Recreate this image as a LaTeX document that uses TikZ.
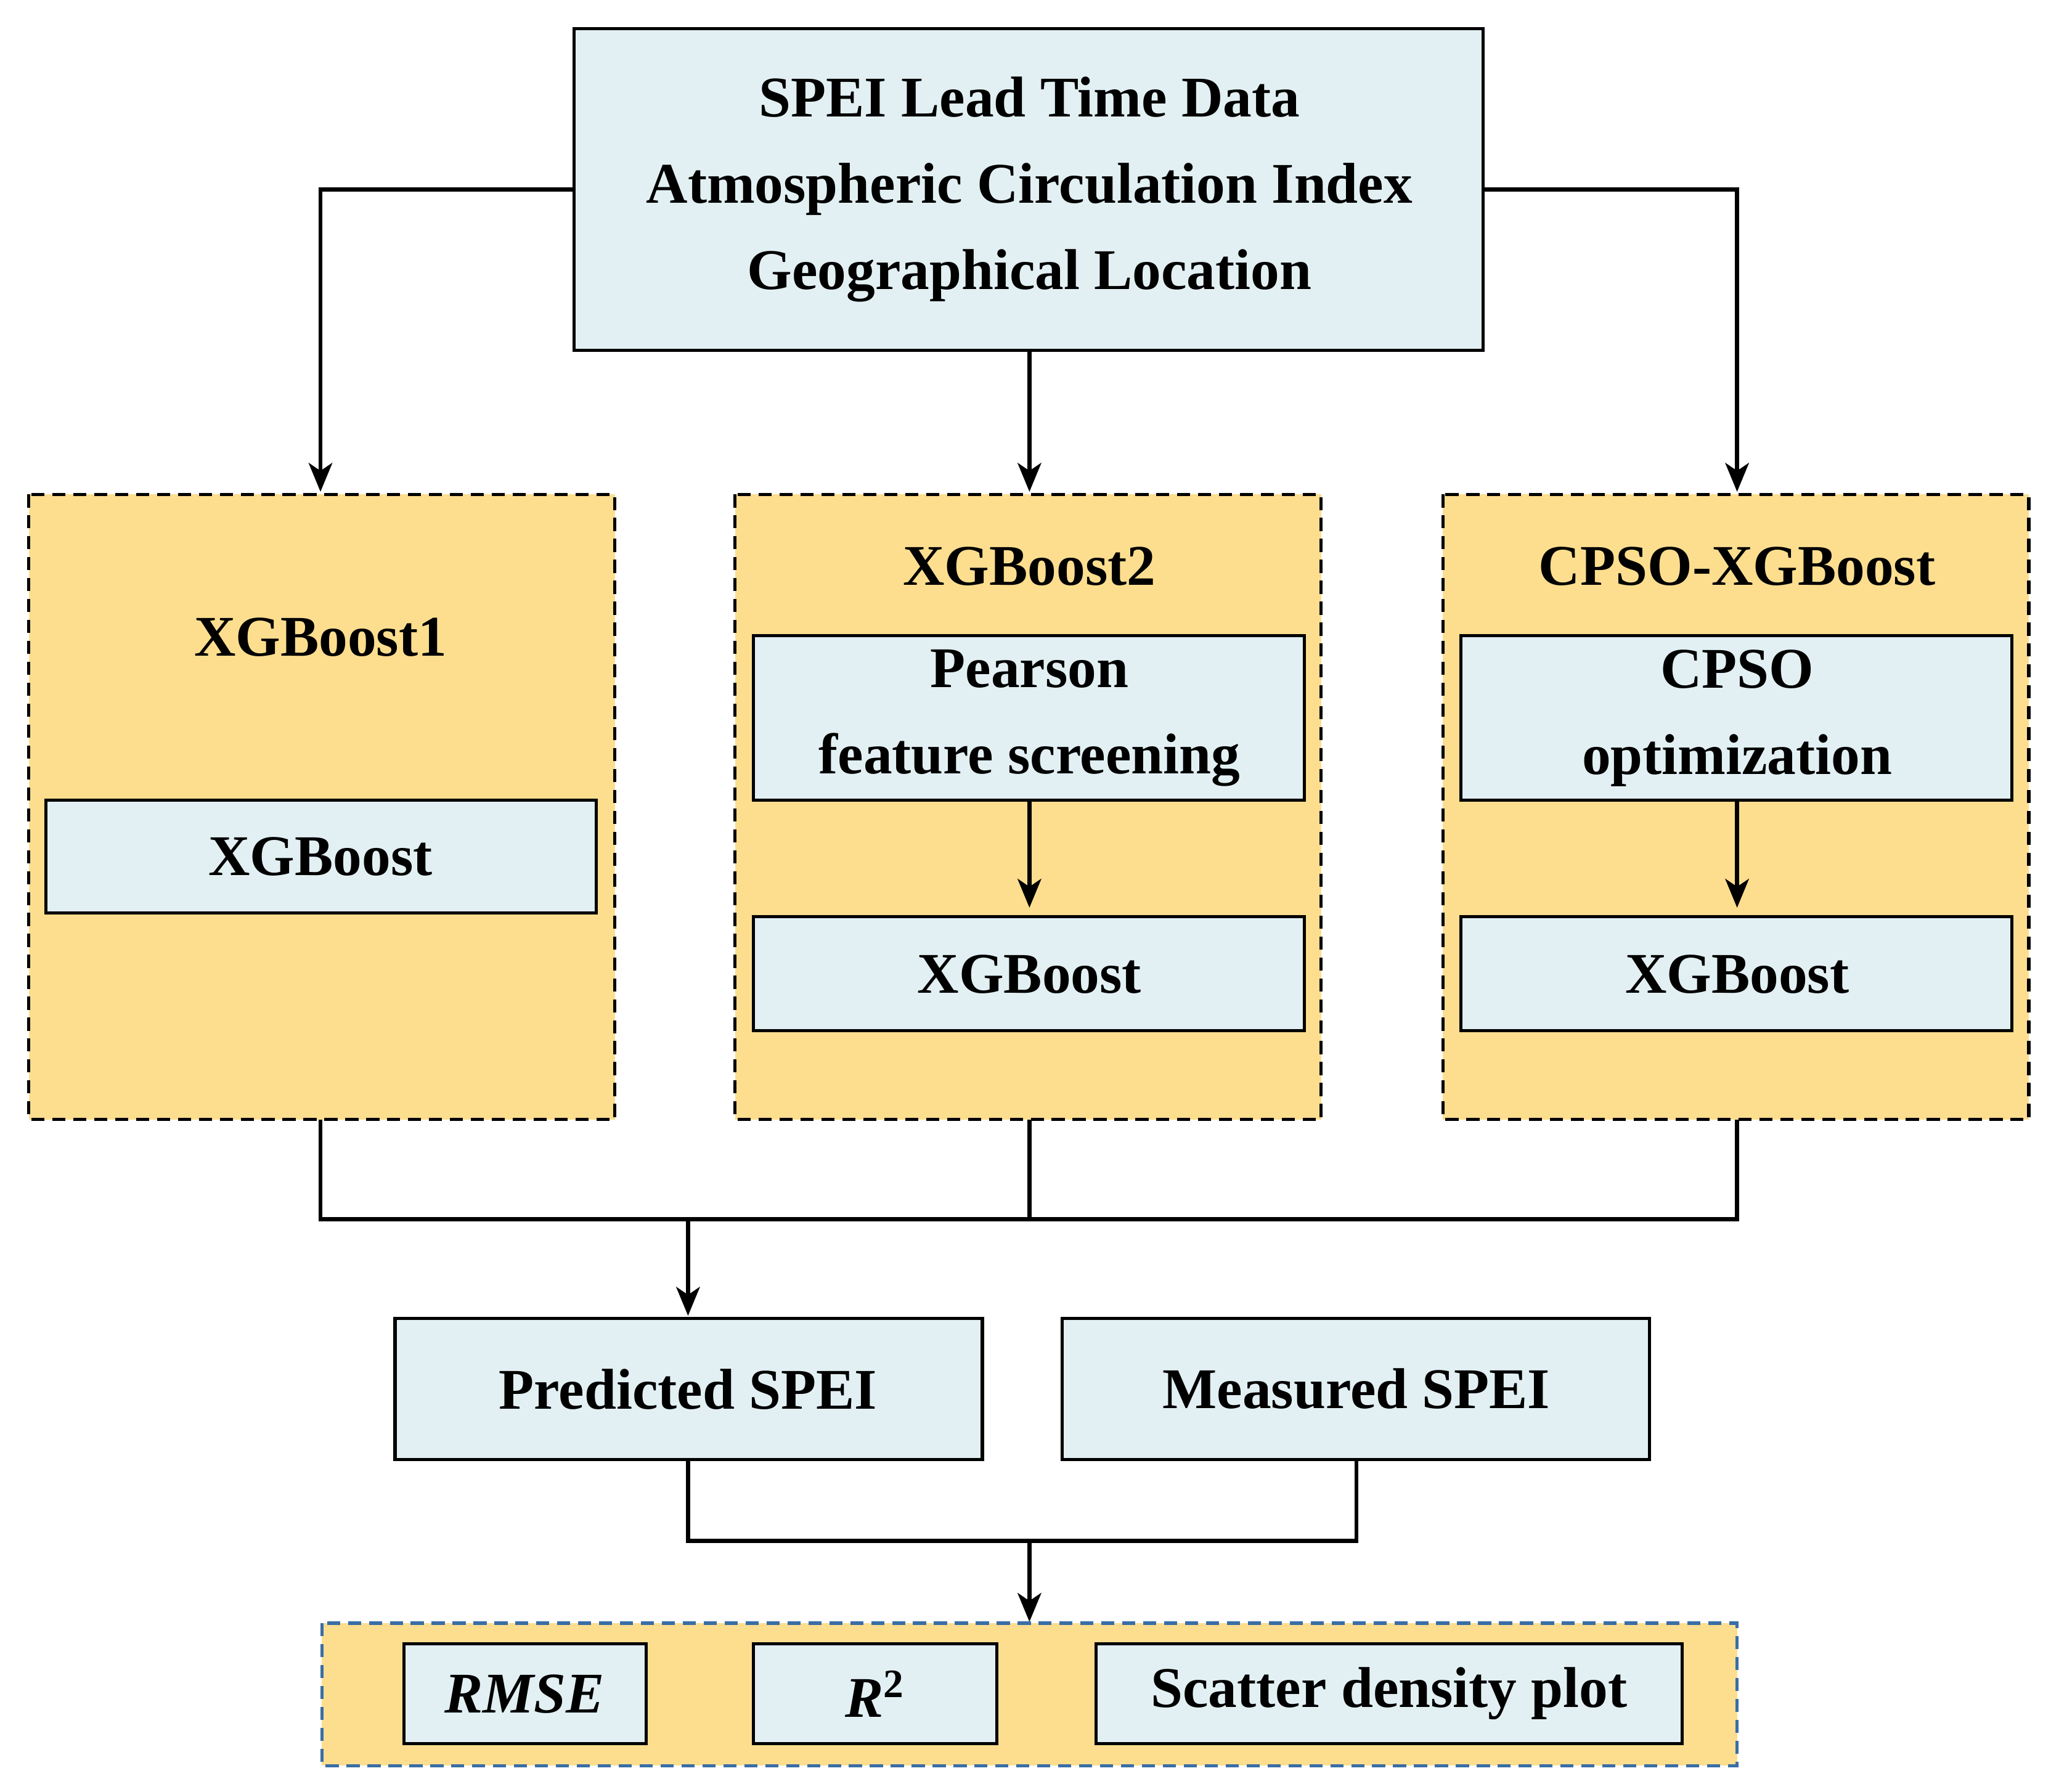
\documentclass[tikz,border=0pt]{standalone}
\usepackage{fontspec}
\setmainfont{Liberation Serif}
\usetikzlibrary{arrows.meta}
\definecolor{lb}{HTML}{E2F0F3}
\definecolor{ye}{HTML}{FDDE8F}
\definecolor{db}{HTML}{3A6EA5}
\begin{document}
\begin{tikzpicture}[x=0.5pt,y=-0.5pt,
  box/.style={draw=black,fill=lb,line width=1.2pt,inner sep=0pt},
  grp/.style={draw=black,fill=ye,dashed,line width=1.2pt,dash pattern=on 5pt off 3pt},
  ln/.style={line width=1.6pt},
  ar/.style={ln,-{Stealth[length=11pt,width=9pt,inset=3pt]}},
  txt/.style={font=\fontsize{22}{33}\selectfont\bfseries,align=center}]
\useasboundingbox (0,0) rectangle (1568,1370);
% top
\draw[box] (439,22) rectangle (1134,268);
\node[txt] (top) at (787,145) {SPEI Lead Time Data\\Atmospheric Circulation Index\\Geographical Location};
\coordinate (tl) at (439,145); \coordinate (tr) at (1134,145); \coordinate (tb) at (787,268);
% groups
\draw[grp] (22,378) rectangle (470,856);
\draw[grp] (562,378) rectangle (1010,856);
\draw[grp] (1103,378) rectangle (1551,856);
\coordinate (g1t) at (245,376); \coordinate (g2t) at (787,376); \coordinate (g3t) at (1328,376);
\coordinate (g1b) at (245,856); \coordinate (g2b) at (787,856); \coordinate (g3b) at (1328,856);
\node[txt] (t1) at (245,487) {XGBoost1};
\node[txt] (t2) at (787,433) {XGBoost2};
\node[txt] (t3) at (1328,433) {CPSO-XGBoost};
\draw[box] (35,612) rectangle (456,698); \node[txt] (x1) at (245,655) {XGBoost};
\draw[box] (576,486) rectangle (997,612); \node[txt] (p2) at (787,549) {Pearson\\feature screening};
\draw[box] (576,701) rectangle (997,788); \node[txt] (x2) at (787,745) {XGBoost};
\draw[box] (1117,486) rectangle (1538,612); \node[txt] (p3) at (1328,549) {CPSO\\optimization};
\draw[box] (1117,701) rectangle (1538,788); \node[txt] (x3) at (1328,745) {XGBoost};
\coordinate (p2b) at (787,612); \coordinate (x2t) at (787,694);
\coordinate (p3b) at (1328,612); \coordinate (x3t) at (1328,694);
% arrows top
\draw[ar] (tl) -| (g1t);
\draw[ar] (tr) -| (g3t);
\draw[ar] (tb) -- (g2t);
\draw[ar] (p2b) -- (x2t);
\draw[ar] (p3b) -- (x3t);
% merge
\coordinate (m1) at (245,932); \coordinate (m3) at (1328,932); \coordinate (mp) at (526,932);
\draw[ln] (g1b) -- (m1) -- (m3) -- (g3b);
\draw[ln] (g2b) -- (787,932);
\draw[box] (302,1008) rectangle (751,1116); \node[txt] (pred) at (526,1062) {Predicted SPEI};
\draw[box] (812,1008) rectangle (1261,1116); \node[txt] (meas) at (1037,1062) {Measured SPEI};
\coordinate (pt) at (526,1006);
\draw[ar] (mp) -- (pt);
\coordinate (pb) at (526,1116); \coordinate (mb) at (1037,1116);
\coordinate (j) at (787,1178); \coordinate (et) at (787,1240);
\draw[ln] (pb) |- (j) -| (mb);
\draw[ar] (j) -- (et);
% bottom
\draw[grp,draw=db] (246,1241) rectangle (1328,1350);
\draw[box] (309,1257) rectangle (494,1333); \node[txt] (r1) at (401,1295) {\itshape RMSE};
\draw[box] (576,1257) rectangle (762,1333); \node[txt] (r2) at (669,1295) {\itshape R\textsuperscript{\upshape 2}};
\draw[box] (838,1257) rectangle (1286,1333); \node[txt] (r3) at (1062,1295) {Scatter density plot};
\end{tikzpicture}
\end{document}
